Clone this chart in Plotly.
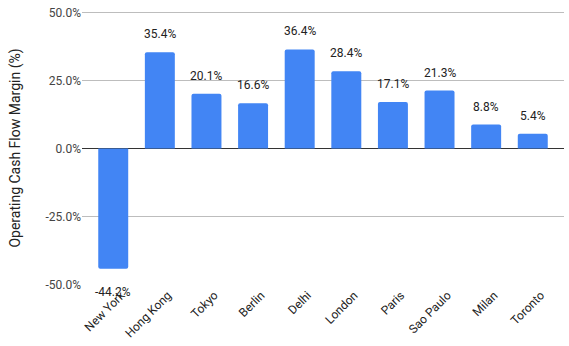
import plotly.graph_objects as go

cities = ["New York", "Hong Kong", "Tokyo", "Berlin", "Delhi", "London", "Paris", "Sao Paulo", "Milan", "Toronto"]
margins = [-44.2, 35.4, 20.1, 16.6, 36.4, 28.4, 17.1, 21.3, 8.8, 5.4]
tick_vals = [-50, -25, 0, 25, 50]
tick_text = ["-50.0%", "-25.0%", "0.0%", "25.0%", "50.0%"]

fig = go.Figure()

fig.add_trace(go.Bar(x=cities, y=margins, marker=dict(color="#4285F4", line=dict(width=0)),
                     hoverinfo="skip"))

for c, v in zip(cities, margins):
    fig.add_annotation(x=c, y=v, text=f"{v:.1f}%", showarrow=False,
                       yanchor="bottom" if v >= 0 else "top",
                       yshift=9 if v >= 0 else -14,
                       font=dict(family="Roboto, Arial", size=12, color="#222222"))

fig.update_layout(
    width=569, height=346,
    margin=dict(l=82, r=5, t=11, b=61),
    plot_bgcolor="rgba(0,0,0,0)", paper_bgcolor="white",
    bargap=0.357, barcornerradius=2,
    showlegend=False,
    font=dict(family="Roboto, Arial", size=12, color="#444444"),
)
fig.update_xaxes(range=[-0.67, 9.67], tickangle=-45, showgrid=False, showline=False, ticks="",
                 automargin=False, ticklabelshift=8,
                 tickfont=dict(size=12, color="#222222"))
fig.update_yaxes(range=[-50.184, 50.551], tickvals=tick_vals, ticktext=tick_text, automargin=False,
                 showgrid=True, gridcolor="#bdbdbd", gridwidth=1,
                 zeroline=True, zerolinecolor="#333333", zerolinewidth=1,
                 title=dict(text="Operating Cash Flow Margin (%)", font=dict(size=14, color="#222222"), standoff=21),
                 tickfont=dict(size=12, color="#444444"), ticks="", showline=False,
                 ticklabeloverflow="allow")

fig.write_html("out.html", config={"displayModeBar": False},
               post_script="document.body.style.margin='0';")
